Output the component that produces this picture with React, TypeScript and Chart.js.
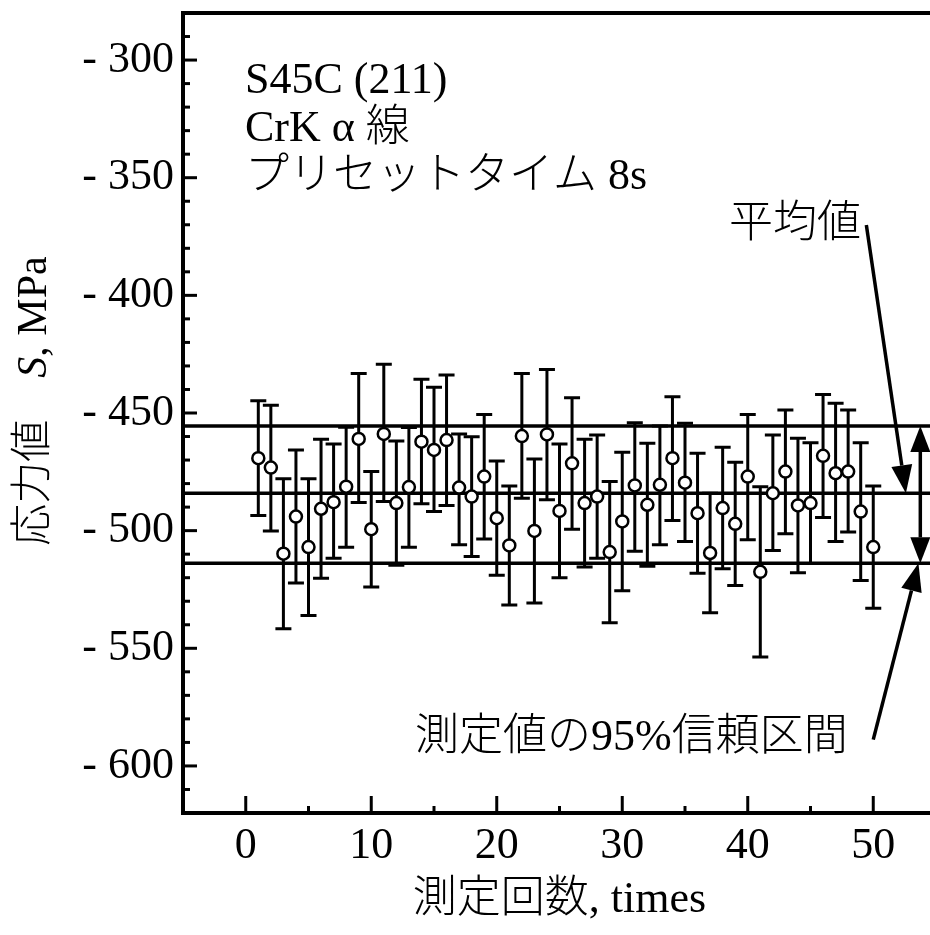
import React, { useEffect, useRef } from "react";
import { Chart, registerables } from "chart.js";

Chart.register(...registerables);

// ---- data ----
const measurementNo = [
  1, 2, 3, 4, 5, 6, 7, 8, 9, 10,
  11, 12, 13, 14, 15, 16, 17, 18, 19, 20,
  21, 22, 23, 24, 25, 26, 27, 28, 29, 30,
  31, 32, 33, 34, 35, 36, 37, 38, 39, 40,
  41, 42, 43, 44, 45, 46, 47, 48, 49, 50,
];

const stressValues = [
  -469.2, -473.2, -509.8, -494.0, -507.0, -490.7, -487.9, -481.3, -461.0, -499.4,
  -458.9, -488.3, -481.5, -462.2, -465.7, -461.5, -481.7, -485.5, -477.0, -494.7,
  -506.3, -459.8, -500.1, -459.1, -491.6, -471.4, -488.3, -485.5, -509.1, -496.1,
  -480.8, -489.0, -480.5, -469.2, -479.6, -492.6, -509.5, -490.4, -497.1, -477.0,
  -517.5, -484.1, -474.9, -489.3, -488.3, -468.2, -475.6, -474.9, -491.9, -507.0,
];

const errorUpper = [
  -444.8, -446.7, -477.9, -465.7, -477.9, -461.2, -463.2, -456.1, -433.2, -474.9,
  -429.3, -461.9, -456.2, -435.7, -439.1, -433.9, -458.9, -460.1, -450.6, -470.4,
  -481.0, -433.2, -469.5, -431.5, -463.2, -443.5, -461.2, -459.3, -479.1, -466.7,
  -454.1, -462.9, -455.5, -443.1, -454.4, -467.1, -484.1, -464.6, -470.9, -450.6,
  -481.3, -459.3, -448.7, -460.7, -462.6, -442.1, -445.9, -448.7, -462.6, -481.0,
];

const errorLower = [
  -493.6, -500.2, -541.7, -522.3, -536.1, -520.2, -511.7, -507.1, -488.0, -523.9,
  -487.6, -514.7, -507.1, -488.6, -491.9, -489.3, -506.0, -511.0, -503.5, -519.0,
  -531.6, -486.2, -530.7, -486.9, -520.0, -499.4, -515.4, -511.7, -539.1, -525.5,
  -508.8, -515.1, -506.0, -495.7, -504.6, -518.1, -534.9, -516.2, -523.3, -503.9,
  -553.7, -508.4, -501.3, -517.9, -514.0, -494.4, -504.6, -500.6, -521.2, -533.0,
];

const upperLimit = -455.5;
const meanValue = -484.1;
const lowerLimit = -513.9;
const referenceLines = [upperLimit, meanValue, lowerLimit];

const xRange = [-5, 55];
const yRange = [-620, -280];
const xTickValues = [0, 10, 20, 30, 40, 50];
const yTickValues = [-300, -350, -400, -450, -500, -550, -600];
const xMinorStep = 5;
const yMinorStep = 10;

const infoLines = ["S45C (211)", "CrK α 線", "プリセットタイム 8s"];
const meanLabel = "平均値";
const ciLabel = "測定値の95%信頼区間";
const xTitle = "測定回数, times";
const yTitleParts = ["応力値　", "S", ", MPa"];

// arrow anchors in data coordinates
const meanArrow = { x0: 49.45, y0: -370.1, x1: 52.6, y1: meanValue };
const ciArrow = { x0: 50.0, y0: -588.8, x1: 53.6, y1: lowerLimit };
const rangeArrowX = 53.75;

const FAMILY = "'Liberation Serif', 'Noto Sans CJK JP', serif";

function drawArrowHead(ctx: CanvasRenderingContext2D, x0: number, y0: number, x1: number, y1: number, len: number, half: number) {
  const dx = x1 - x0;
  const dy = y1 - y0;
  const d = Math.hypot(dx, dy);
  const ux = dx / d;
  const uy = dy / d;
  const bx = x1 - ux * len;
  const by = y1 - uy * len;
  ctx.beginPath();
  ctx.moveTo(x1, y1);
  ctx.lineTo(bx - uy * half, by + ux * half);
  ctx.lineTo(bx + uy * half, by - ux * half);
  ctx.closePath();
  ctx.fill();
  return [bx, by];
}

function drawArrow(ctx: CanvasRenderingContext2D, x0: number, y0: number, x1: number, y1: number) {
  const [bx, by] = drawArrowHead(ctx, x0, y0, x1, y1, 28, 10.5);
  ctx.beginPath();
  ctx.moveTo(x0, y0);
  ctx.lineTo(bx, by);
  ctx.stroke();
}

const decorPlugin = {
  id: "decor",
  beforeDatasetsDraw(chart: any) {
    const { ctx, scales } = chart;
    const x = scales.x;
    const y = scales.y;
    ctx.save();
    ctx.strokeStyle = "#000";
    ctx.lineWidth = 3;
    ctx.lineCap = "butt";
    for (let i = 0; i < measurementNo.length; i++) {
      const px = x.getPixelForValue(measurementNo[i]);
      const yt = y.getPixelForValue(errorUpper[i]);
      const yb = y.getPixelForValue(errorLower[i]);
      ctx.beginPath();
      ctx.moveTo(px, yt);
      ctx.lineTo(px, yb);
      ctx.moveTo(px - 8, yt);
      ctx.lineTo(px + 8, yt);
      ctx.moveTo(px - 8, yb);
      ctx.lineTo(px + 8, yb);
      ctx.stroke();
    }
    ctx.restore();
  },
  afterDraw(chart: any) {
    const { ctx, chartArea, scales } = chart;
    const x = scales.x;
    const y = scales.y;
    ctx.save();
    ctx.strokeStyle = "#000";
    ctx.fillStyle = "#000";

    // top frame line
    ctx.lineWidth = 4;
    ctx.beginPath();
    ctx.moveTo(chartArea.left - 2, chartArea.top);
    ctx.lineTo(chartArea.right, chartArea.top);
    ctx.stroke();

    // inward ticks
    ctx.lineWidth = 3;
    for (let v = yRange[0] + yMinorStep; v < yRange[1]; v += yMinorStep) {
      const py = y.getPixelForValue(v);
      const len = yTickValues.includes(v) ? 14 : 7;
      ctx.beginPath();
      ctx.moveTo(chartArea.left, py);
      ctx.lineTo(chartArea.left + len, py);
      ctx.stroke();
    }
    for (let v = xRange[0] + xMinorStep; v < xRange[1]; v += xMinorStep) {
      const px = x.getPixelForValue(v);
      const len = xTickValues.includes(v) ? 17 : 7;
      ctx.beginPath();
      ctx.moveTo(px, chartArea.bottom);
      ctx.lineTo(px, chartArea.bottom - len);
      ctx.stroke();
    }

    // info text
    ctx.font = `300 44px ${FAMILY}`;
    ctx.textAlign = "left";
    ctx.textBaseline = "alphabetic";
    const infoBase = [93, 141, 189];
    infoLines.forEach((t, i) => ctx.fillText(t, 245, infoBase[i]));
    ctx.fillText(meanLabel, 729, 237);
    ctx.fillText(ciLabel, 415, 750);

    // y axis title (rotated, italic S)
    ctx.save();
    ctx.translate(35, 401);
    ctx.rotate(-Math.PI / 2);
    ctx.textBaseline = "middle";
    const fonts = [`300 42px ${FAMILY}`, `italic 42px ${FAMILY}`, `300 42px ${FAMILY}`];
    let total = 0;
    const widths = yTitleParts.map((p, i) => {
      ctx.font = fonts[i];
      const w = ctx.measureText(p).width;
      total += w;
      return w;
    });
    let cx = -total / 2;
    yTitleParts.forEach((p, i) => {
      ctx.font = fonts[i];
      ctx.fillText(p, cx, 0);
      cx += widths[i];
    });
    ctx.restore();

    // arrows
    ctx.lineWidth = 3.5;
    drawArrow(ctx, x.getPixelForValue(meanArrow.x0), y.getPixelForValue(meanArrow.y0), x.getPixelForValue(meanArrow.x1), y.getPixelForValue(meanArrow.y1));
    drawArrow(ctx, x.getPixelForValue(ciArrow.x0), y.getPixelForValue(ciArrow.y0), x.getPixelForValue(ciArrow.x1), y.getPixelForValue(ciArrow.y1));

    const rx = x.getPixelForValue(rangeArrowX);
    const ryTop = y.getPixelForValue(upperLimit);
    const ryBot = y.getPixelForValue(lowerLimit);
    const midY = (ryTop + ryBot) / 2;
    const [, b1] = drawArrowHead(ctx, rx, midY, rx, ryTop, 26, 10);
    const [, b2] = drawArrowHead(ctx, rx, midY, rx, ryBot, 26, 10);
    ctx.beginPath();
    ctx.moveTo(rx, b1);
    ctx.lineTo(rx, b2);
    ctx.stroke();

    ctx.restore();
  },
};

export default function App() {
  const canvasRef = useRef<HTMLCanvasElement | null>(null);

  useEffect(() => {
    if (!canvasRef.current) return;
    const tickFont = { family: FAMILY, size: 44, lineHeight: 1.2 };
    const chart = new Chart(canvasRef.current, {
      type: "scatter",
      data: {
        datasets: [
          ...referenceLines.map((v) => ({
            type: "line" as const,
            data: [
              { x: xRange[0], y: v },
              { x: xRange[1], y: v },
            ],
            borderColor: "#000",
            borderWidth: 3.5,
            pointRadius: 0,
            fill: false,
            order: 2,
          })),
          {
            type: "scatter" as const,
            data: measurementNo.map((n, i) => ({ x: n, y: stressValues[i] })),
            pointRadius: 6,
            pointBorderWidth: 2.5,
            pointBackgroundColor: "#fff",
            pointBorderColor: "#000",
            backgroundColor: "#fff",
            borderColor: "#000",
            order: 1,
          },
        ],
      } as any,
      options: {
        animation: false,
        responsive: true,
        maintainAspectRatio: false,
        layout: { padding: { top: 13, right: 9, left: 0, bottom: 0 } },
        plugins: { legend: { display: false }, tooltip: { enabled: false }, title: { display: false } },
        scales: {
          x: {
            type: "linear",
            min: xRange[0],
            max: xRange[1],
            afterBuildTicks: (s: any) => {
              s.ticks = xTickValues.map((v) => ({ value: v }));
            },
            afterFit: (s: any) => {
              s.height = 122;
              s.paddingLeft = 0;
              s.paddingRight = 0;
            },
            ticks: {
              font: tickFont,
              color: "#000",
              padding: 7,
              maxRotation: 0,
              minRotation: 0,
              autoSkip: false,
              callback: (v: any) => String(v),
            },
            grid: { display: false, drawTicks: false },
            border: { display: true, color: "#000", width: 4 },
            title: {
              display: true,
              text: xTitle,
              color: "#000",
              font: { family: FAMILY, size: 44, lineHeight: 1.2, weight: "300" },
              padding: { top: 0, bottom: 8 },
            },
          },
          y: {
            type: "linear",
            min: yRange[0],
            max: yRange[1],
            afterBuildTicks: (s: any) => {
              s.ticks = yTickValues.map((v) => ({ value: v }));
            },
            afterFit: (s: any) => {
              s.width = 183;
              s.paddingTop = 0;
              s.paddingBottom = 0;
            },
            ticks: {
              font: tickFont,
              color: "#000",
              padding: 9,
              autoSkip: false,
              callback: (v: any) => (Number(v) < 0 ? "- " + Math.abs(Number(v)) : String(v)),
            },
            grid: { display: false, drawTicks: false },
            border: { display: true, color: "#000", width: 4 },
          },
        },
      } as any,
      plugins: [decorPlugin],
    });
    return () => chart.destroy();
  }, []);

  return (
    <div style={{ position: "fixed", left: 0, top: 0, width: 930, height: 935, overflow: "hidden", background: "#fff" }}>
      <div style={{ position: "relative", width: 945, height: 935 }}>
        <canvas ref={canvasRef} />
      </div>
    </div>
  );
}
